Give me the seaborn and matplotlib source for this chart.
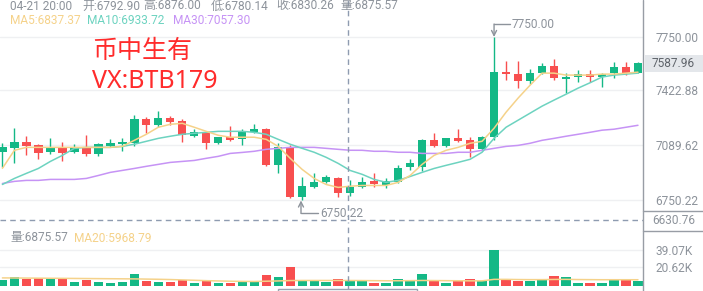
import matplotlib
matplotlib.use("Agg")
import matplotlib.pyplot as plt
import seaborn as sns
import numpy as np
import pandas as pd
from matplotlib.lines import Line2D
from matplotlib.patches import Rectangle

# ---------------- data ----------------
opens = [7045, 7069, 7106, 7088, 7045, 7069, 7045, 7075, 7032, 7081,
         7094, 7100, 7247, 7210, 7253, 7235, 7143, 7167, 7100, 7137,
         7124, 7167, 7186, 6965, 7075, 6769, 6830, 6861, 6885, 6792.90,
         6830, 6867, 6842, 6861, 6953, 6953, 7118, 7081, 7130, 7118,
         7063, 7137, 7535, 7523, 7480, 7529, 7572, 7492, 7505, 7523,
         7505, 7529, 7566, 7529]
closes = [7075, 7106, 7081, 7038, 7075, 7038, 7075, 7032, 7094, 7100,
          7106, 7247, 7210, 7253, 7229, 7149, 7167, 7100, 7137, 7118,
          7167, 7186, 6965, 7075, 6769, 6836, 6861, 6891, 6793, 6830.26,
          6861, 6848, 6867, 6946, 6977, 7118, 7081, 7130, 7112, 7063,
          7137, 7535, 7523, 7480, 7529, 7572, 7498, 7505, 7523, 7505,
          7523, 7566, 7529, 7587.96]
highs = [7100, 7192, 7143, 7094, 7130, 7106, 7094, 7149, 7100, 7124,
         7130, 7272, 7259, 7296, 7265, 7247, 7186, 7170, 7140, 7204,
         7186, 7216, 7192, 7100, 7088, 6891, 6916, 6904, 6891, 6876.00,
         6891, 6916, 6885, 6965, 7002, 7124, 7161, 7133, 7186, 7137,
         7143, 7750.00, 7603, 7603, 7554, 7590, 7615, 7529, 7548, 7548,
         7529, 7597, 7597, 7595]
lows = [6953, 6977, 7026, 7002, 7032, 6989, 7038, 7020, 7020, 7075,
        7051, 7081, 7161, 7198, 7210, 7106, 7137, 7063, 7094, 7115,
        7088, 7161, 6962, 6916, 6765, 6750.22, 6827, 6854, 6769, 6780.14,
        6824, 6830, 6824, 6854, 6934, 6928, 7075, 7075, 7106, 7014,
        7051, 7118, 7486, 7437, 7462, 7523, 7486, 7406, 7474, 7474,
        7443, 7498, 7517, 7529]
volumes_k = [6.5, 9.4, 7.6, 9.0, 7.6, 7.6, 4.0, 6.5, 4.7, 3.6,
             4.7, 13.0, 5.4, 4.7, 4.7, 6.5, 3.6, 5.4, 3.6, 3.6,
             4.7, 4.7, 11.9, 9.4, 20.3, 5.4, 5.4, 4.7, 7.2, 6.876,
             5.4, 3.6, 3.6, 7.2, 5.4, 13.0, 5.4, 3.6, 5.4, 7.2,
             5.4, 39.1, 7.6, 5.4, 5.4, 6.5, 10.8, 9.4, 3.6, 3.6,
             3.6, 6.5, 6.5, 5.4]
ma5 = [6947, 7057, 7075, 7075, 7075, 7075, 7075, 7075, 7075, 7075,
       7081, 7118, 7155, 7198, 7216, 7222, 7198, 7173, 7149, 7137,
       7137, 7137, 7124, 7081, 7008, 6940, 6885, 6848, 6830, 6837.37,
       6842, 6842, 6842, 6861, 6903, 6971, 7026, 7057, 7075, 7100,
       7112, 7192, 7290, 7376, 7455, 7529, 7529, 7517, 7517, 7517,
       7523, 7523, 7529, 7535]
ma10 = [6848, 6885, 6916, 6946, 6989, 7026, 7069, 7075, 7075, 7075,
        7081, 7094, 7112, 7130, 7143, 7155, 7161, 7167, 7173, 7173,
        7173, 7167, 7155, 7124, 7094, 7069, 7045, 7014, 6977, 6933.72,
        6910, 6879, 6861, 6873, 6897, 6922, 6946, 6965, 6983, 7002,
        7045, 7130, 7198, 7241, 7284, 7327, 7364, 7400, 7437, 7470,
        7505, 7517, 7523, 7529]
ma30 = [6854, 6867, 6873, 6873, 6879, 6879, 6879, 6885, 6903, 6922,
        6934, 6946, 6959, 6971, 6983, 6989, 6995, 7008, 7020, 7038,
        7044, 7051, 7063, 7069, 7075, 7075, 7075, 7069, 7063, 7057.30,
        7057, 7051, 7051, 7045, 7045, 7038, 7038, 7038, 7045, 7045,
        7057, 7069, 7081, 7087, 7100, 7118, 7130, 7143, 7155, 7167,
        7180, 7186, 7198, 7210]
vol_ma20 = [8.8, 8.7, 8.6, 8.5, 8.4, 8.3, 8.2, 8.1, 8.0, 7.9,
            7.8, 7.7, 7.5, 7.3, 7.0, 6.6, 6.2, 5.8, 5.5, 5.2,
            5.0, 4.9, 5.2, 5.5, 5.9, 6.0, 6.0, 6.0, 6.0, 5.969,
            5.9, 5.8, 5.7, 5.7, 5.8, 6.0, 5.9, 5.8, 5.7, 5.6,
            5.6, 7.2, 7.2, 7.0, 6.9, 6.9, 7.1, 7.2, 7.0, 6.9,
            6.8, 6.8, 6.8, 6.8]
price_ticks = [6750.22, 7089.62, 7422.88, 7750.00]
vol_ticks = [20.62, 39.07]
vol_tick_labels = ["20.62K", "39.07K"]
header_ohlc = ["04-21 20:00", "开:6792.90", "高:6876.00", "低:6780.14", "收:6830.26", "量:6875.57"]
header_ma = ["MA5:6837.37", "MA10:6933.72", "MA30:7057.30"]
vol_header = ["量:6875.57", "MA20:5968.79"]
last_price = 7587.96
bottom_price = 6630.76
max_idx, max_price = 41, 7750.00
min_idx, min_price = 25, 6750.22
cross_idx = 29

# ---------------- style ----------------
sns.set_theme(style="white")
plt.rcParams['font.family'] = ['Roboto', 'Noto Sans CJK SC', 'DejaVu Sans']

UP = '#14b886'
DOWN = '#f84f4f'
C_MA5 = '#f5d28a'
C_MA10 = '#6dd3c0'
C_MA30 = '#c693f5'
GRAY = '#8d939b'
GRID = '#eff0f2'
CROSS = '#8e9bb0'

W, H = 703, 291
fig = plt.figure(figsize=(W / 100, H / 100), dpi=100)
fig.patch.set_facecolor('white')
PLOT_R = 643
MAIN_BOT = 220
ax = fig.add_axes([0, 1 - MAIN_BOT / H, PLOT_R / W, MAIN_BOT / H])
axv = fig.add_axes([0, 0, PLOT_R / W, (H - 222) / H])

XMIN, XMAX = -0.2, 53.42
PPX = (7750.0 - bottom_price) / (MAIN_BOT - 37)  # price per pixel
VPX = 39.07 / (286 - 250)
for a in (ax, axv):
    a.set_xlim(XMIN, XMAX)
    a.set_facecolor('white')
    for s in a.spines.values():
        s.set_visible(False)
    a.set_xticks([])
    a.yaxis.tick_right()
    a.tick_params(axis='y', length=0, pad=9, labelcolor=GRAY, labelsize=8.6)
    a.grid(axis='y', color=GRID, lw=1)
    a.grid(axis='x', visible=False)
    a.set_axisbelow(True)
ax.set_ylim(bottom_price, 7750 + 37 * PPX)
axv.set_ylim(-(H - 286) * VPX, (286 - 222) * VPX)

ax.set_yticks(price_ticks)
ax.set_yticklabels([f"{v:.2f}" for v in price_ticks])
axv.set_yticks(vol_ticks)
axv.set_yticklabels(vol_tick_labels)

df = pd.DataFrame({'idx': np.arange(len(opens)), 'open': opens, 'close': closes,
                   'high': highs, 'low': lows, 'vol': volumes_k,
                   'ma5': ma5, 'ma10': ma10, 'ma30': ma30, 'vma20': vol_ma20})
colors = [UP if c >= o else DOWN for o, c in zip(df['open'], df['close'])]

# candles
ax.vlines(df['idx'], df['low'], df['high'], colors=colors, lw=1, zorder=2)
body_bot = np.minimum(df['open'], df['close'])
body_h = np.maximum(np.abs(df['close'] - df['open']), 1.3 * PPX)
ax.bar(df['idx'], body_h, bottom=body_bot, width=0.7, color=colors, zorder=3, linewidth=0)

# moving averages
sns.lineplot(data=df, x='idx', y='ma30', ax=ax, color=C_MA30, lw=1.1, zorder=4, legend=False)
sns.lineplot(data=df, x='idx', y='ma10', ax=ax, color=C_MA10, lw=1.1, zorder=4, legend=False)
sns.lineplot(data=df, x='idx', y='ma5', ax=ax, color=C_MA5, lw=1.1, zorder=4, legend=False)
ax.set_xlabel(''); ax.set_ylabel('')

# volume
axv.bar(df['idx'], df['vol'], width=0.78, color=colors, linewidth=0, zorder=2)
sns.lineplot(data=df, x='idx', y='vma20', ax=axv, color=C_MA5, lw=1.1, zorder=3, legend=False)
axv.set_xlabel(''); axv.set_ylabel('')
axv.set_xlim(XMIN, XMAX)
ax.set_xlim(XMIN, XMAX)

# max / min markers
def px_to_idx(px):
    return XMIN + px / PLOT_R * (XMAX - XMIN)

hi_y = max_price + 13 * PPX
ax.annotate('', xy=(max_idx, max_price), xytext=(max_idx, hi_y),
            arrowprops=dict(arrowstyle='->', color=GRAY, lw=1, shrinkA=0, shrinkB=0, mutation_scale=9),
            zorder=6)
ax.plot([max_idx, px_to_idx(510)], [hi_y, hi_y], color=GRAY, lw=1, zorder=6)
ax.text(px_to_idx(512), hi_y, f"{max_price:.2f}", color=GRAY, fontsize=8.6, va='center', ha='left', zorder=6)

lo_y = min_price - 13 * PPX
ax.annotate('', xy=(min_idx - 0.1, min_price), xytext=(min_idx - 0.1, lo_y),
            arrowprops=dict(arrowstyle='->', color=GRAY, lw=1, shrinkA=0, shrinkB=0, mutation_scale=9),
            zorder=6, annotation_clip=False)
ax.plot([min_idx - 0.1, px_to_idx(318)], [lo_y, lo_y], color=GRAY, lw=1, zorder=6, clip_on=False)
ax.text(px_to_idx(320), lo_y, f"{min_price:.2f}", color=GRAY, fontsize=8.6, va='center', ha='left', zorder=6)

# crosshair
for a in (ax, axv):
    a.axvline(cross_idx - 0.15, color=CROSS, lw=1, dashes=(4, 3), zorder=5)
ax.axhline(bottom_price, color=CROSS, lw=1, dashes=(4, 3), zorder=5, clip_on=False)


def fp(x, y):
    return (x / W, 1 - y / H)


# right axis line and labels
fig.add_artist(Line2D([PLOT_R / W] * 2, [0, 1], color='#989da5', lw=1, transform=fig.transFigure))
for yy in (211, 231):
    fig.add_artist(Line2D([PLOT_R / W, 1], [1 - yy / H] * 2, color='#989da5', lw=1, transform=fig.transFigure))
fig.text(*fp(652, 221), f"{bottom_price:.2f}", color=GRAY, fontsize=8.6, va='center', ha='left')

last_y = 37 + (7750 - last_price) / PPX
fig.add_artist(Rectangle(fp(645, last_y + 8.5), 58 / W, 17 / H, transform=fig.transFigure,
                         facecolor='#e4e7eb', edgecolor='none'))
fig.text(*fp(652, last_y), f"{last_price:.2f}", color='#5f646b', fontsize=8.6, va='center', ha='left')

# bottom time label box (cropped)
fig.add_artist(Rectangle(fp(278, 296), 139 / W, 7 / H, transform=fig.transFigure,
                         facecolor='white', edgecolor='#9aa3b0', lw=1))

# header texts
for s, x in zip(header_ohlc, [10, 82, 143, 211, 276, 340]):
    fig.text(*fp(x, 6), s, color=GRAY, fontsize=8.6, va='center', ha='left')
for s, x, c in zip(header_ma, [10, 87, 173], [C_MA5, C_MA10, C_MA30]):
    fig.text(*fp(x, 20), s, color=c, fontsize=8.6, va='center', ha='left')
fig.text(*fp(10, 238), vol_header[0], color=GRAY, fontsize=8.6, va='center', ha='left')
fig.text(*fp(74, 238), vol_header[1], color=C_MA5, fontsize=8.6, va='center', ha='left')

# red watermark text
fig.text(*fp(92, 51), "币中生有", color='#ff2b2b', fontsize=18, va='center', ha='left',
         family=['Noto Sans CJK SC', 'DejaVu Sans'])
fig.text(*fp(92, 81), "VX:BTB179", color='#ff2b2b', fontsize=18, va='center', ha='left',
         family=['Noto Sans', 'DejaVu Sans'])

fig.savefig('out.png', dpi=100, facecolor='white')
